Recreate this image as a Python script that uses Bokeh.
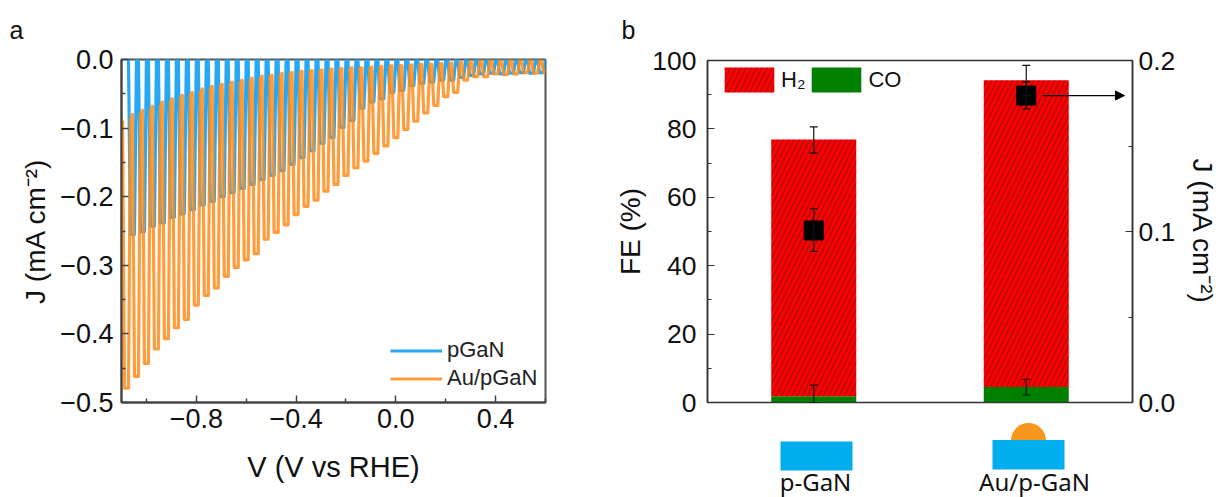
from bokeh.plotting import figure
from bokeh.layouts import row, column
from bokeh.embed import file_html
from bokeh.resources import INLINE
from bokeh.models import (Range1d, LinearAxis, FixedTicker, Legend, LegendItem, Whisker, TeeHead,
                          ColumnDataSource, Arrow, NormalHead, Title)
from bokeh.core.properties import value

# ---------- panel a: chopped LSV, one entry per light pulse ----------
au_pulse_v = [-1.08, -1.04, -1.00, -0.96, -0.92, -0.88, -0.84, -0.80, -0.76, -0.72, -0.68, -0.64, -0.60, -0.56,
              -0.52, -0.48, -0.44, -0.40, -0.36, -0.32, -0.28, -0.24, -0.20, -0.16, -0.12, -0.08, -0.04, 0.00,
              0.04, 0.08, 0.12, 0.16, 0.20, 0.24, 0.28, 0.32, 0.36, 0.40, 0.44, 0.48, 0.52, 0.56, 0.60]
au_light = [-0.479, -0.462, -0.443, -0.422, -0.407, -0.391, -0.379, -0.358, -0.344, -0.333, -0.316, -0.303,
            -0.292, -0.283, -0.262, -0.252, -0.241, -0.226, -0.214, -0.205, -0.192, -0.182, -0.169, -0.158,
            -0.148, -0.137, -0.126, -0.114, -0.102, -0.090, -0.078, -0.067, -0.054, -0.048, -0.030, -0.025,
            -0.025, -0.021, -0.022, -0.021, -0.019, -0.020, -0.018]
au_dark = [-0.089, -0.080, -0.074, -0.068, -0.062, -0.057, -0.052, -0.048, -0.043, -0.039, -0.036, -0.033,
           -0.030, -0.027, -0.024, -0.023, -0.020, -0.019, -0.017, -0.016, -0.015, -0.014, -0.013, -0.012,
           -0.012, -0.011, -0.010, -0.009, -0.009, -0.008, -0.007, -0.007, -0.006, -0.005, -0.004, -0.003,
           -0.002, -0.002, -0.002, -0.002, -0.002, -0.002, -0.002]
pg_pulse_v = [-1.056, -1.016, -0.976, -0.936, -0.896, -0.856, -0.816, -0.776, -0.736, -0.696, -0.656, -0.616,
              -0.576, -0.536, -0.496, -0.456, -0.416, -0.376, -0.336, -0.296, -0.256, -0.216, -0.176, -0.136,
              -0.096, -0.056, -0.016, 0.024, 0.064, 0.104, 0.144, 0.184, 0.224, 0.264, 0.304, 0.344, 0.384,
              0.424, 0.464, 0.504, 0.544, 0.584]
pg_light = [-0.255, -0.251, -0.243, -0.238, -0.230, -0.225, -0.219, -0.212, -0.207, -0.200, -0.194, -0.188,
            -0.182, -0.175, -0.169, -0.162, -0.153, -0.143, -0.133, -0.122, -0.114, -0.099, -0.089, -0.071,
            -0.062, -0.057, -0.048, -0.045, -0.038, -0.035, -0.033, -0.030, -0.030, -0.026, -0.023, -0.021,
            -0.020, -0.021, -0.020, -0.019, -0.020, -0.019]
pg_dark = [0.0] * 42
x_major = [-0.8, -0.4, 0.0, 0.4]
x_minor = [-1.0, -0.6, -0.2, 0.2, 0.6]
x_labels = {-0.8: "\u22120.8", -0.4: "\u22120.4", 0.0: "0.0", 0.4: "0.4"}
y_major = [0.0, -0.1, -0.2, -0.3, -0.4, -0.5]
y_minor = [-0.05, -0.15, -0.25, -0.35, -0.45]
y_labels = {0.0: "0.0", -0.1: "\u22120.1", -0.2: "\u22120.2", -0.3: "\u22120.3", -0.4: "\u22120.4", -0.5: "\u22120.5"}

# ---------- panel b ----------
samples = [1, 2]
sample_names = ["p-GaN", "Au/p-GaN"]
fe_co = [1.85, 4.5]
fe_h2 = [75.05, 89.7]
fe_total = [76.9, 94.2]
fe_total_lo = [72.9, 89.8]
fe_total_hi = [80.6, 98.6]
fe_co_lo = [0.0, 2.2]
fe_co_hi = [5.1, 6.8]
j_vals = [0.1006, 0.1795]
j_lo = [0.0883, 0.1717]
j_hi = [0.1133, 0.1875]

FONT = "Liberation Sans"
BLUE = "#28a8f4"
ORANGE = "#ff8c1a"


def trace(vs, dark, light, top_half=0.016, low_half=0.008):
    xs, ys = [], []
    for v, d, l in zip(vs, dark, light):
        xs += [v - top_half, v - low_half, v + low_half, v + top_half]
        ys += [d, l, l, d]
    return xs, ys


# ---------- panel a ----------
a = figure(width=608, height=497, frame_width=424, frame_height=343, x_range=Range1d(-1.1, 0.6),
           y_range=Range1d(-0.5, 0.0), toolbar_location=None, output_backend="svg",
           min_border_left=121, min_border_right=63, min_border_top=59, min_border_bottom=95)
a.grid.visible = False
a.outline_line_color = "#555555"
a.outline_line_width = 2
xs, ys = trace(pg_pulse_v, pg_dark, pg_light)
r_pg = a.line(xs, ys, line_color=BLUE, line_width=3.2, line_join="round")
xs, ys = trace(au_pulse_v, au_dark, au_light)
r_au = a.line(xs, ys, line_color=ORANGE, line_width=3.2, line_alpha=0.85, line_join="round")
for ax in (a.xaxis[0], a.yaxis[0]):
    ax.axis_line_color = "#444444"
    ax.axis_line_width = 2
    ax.major_tick_line_color = "#444444"
    ax.minor_tick_line_color = "#444444"
    ax.major_tick_line_width = 1.5
    ax.minor_tick_line_width = 1.5
    ax.major_tick_in = 7
    ax.major_tick_out = 0
    ax.minor_tick_in = 4
    ax.minor_tick_out = 0
    ax.major_label_text_font = FONT
    ax.major_label_text_font_size = "27px"
    ax.major_label_text_color = "#111111"
    ax.axis_label_text_font = FONT
    ax.axis_label_text_font_size = "28px"
    ax.axis_label_text_font_style = "normal"
    ax.axis_label_text_color = "#111111"
a.xaxis[0].ticker = FixedTicker(ticks=x_major, minor_ticks=x_minor)
a.xaxis[0].major_label_overrides = x_labels
a.xaxis[0].axis_label = "V (V vs RHE)"
a.xaxis[0].axis_label_text_font_size = "29px"
a.xaxis[0].major_label_standoff = 6
a.xaxis[0].axis_label_standoff = 20
a.yaxis[0].ticker = FixedTicker(ticks=y_major, minor_ticks=y_minor)
a.yaxis[0].major_label_overrides = y_labels
a.yaxis[0].axis_label = "J (mA cm\u207b\u00b2)"
a.yaxis[0].major_label_standoff = 8
a.yaxis[0].axis_label_standoff = 6
a.add_layout(Legend(items=[LegendItem(label="pGaN", renderers=[r_pg]), LegendItem(label="Au/pGaN", renderers=[r_au])],
                    location=(269, 11), padding=0, margin=0, spacing=2, glyph_width=52, glyph_height=21,
                    label_height=21, label_standoff=5, label_text_font=FONT, label_text_font_size="22px",
                    label_text_color="#222222", border_line_color=None, background_fill_alpha=0))
a.add_layout(Title(text="a", align="left", offset=-112, standoff=28, vertical_align="top", text_font=FONT,
                   text_font_size="25px", text_font_style="normal", text_color="#111111"), "above")

# ---------- panel b ----------
b = figure(width=611, height=422, frame_width=425, frame_height=342, x_range=Range1d(0.5, 2.5),
           y_range=Range1d(0, 100), toolbar_location=None, output_backend="svg",
           min_border_left=99, min_border_right=87, min_border_top=60, min_border_bottom=20)
b.extra_y_ranges = {"j": Range1d(0, 0.2)}
b.grid.visible = False
b.outline_line_color = "#333333"
b.outline_line_width = 1.5
r_co = b.vbar(x=samples, width=0.4, bottom=0, top=fe_co, fill_color="#008000", line_color=None)
r_h2 = b.vbar(x=samples, width=0.4, bottom=fe_co, top=fe_total, fill_color="#ff0000", line_color=None,
              hatch_pattern="right_diagonal_line", hatch_color="#222222", hatch_weight=0.6, hatch_scale=10.5)
src = ColumnDataSource(dict(x=samples, tl=fe_total_lo, th=fe_total_hi, cl=fe_co_lo, ch=fe_co_hi, jl=j_lo, jh=j_hi))
for lo, hi, yr in (("tl", "th", "default"), ("cl", "ch", "default"), ("jl", "jh", "j")):
    b.add_layout(Whisker(source=src, base="x", lower=lo, upper=hi, y_range_name=yr, level="overlay",
                         line_color="#111111", line_width=1.2,
                         upper_head=TeeHead(size=8, line_color="#111111", line_width=1.2),
                         lower_head=TeeHead(size=8, line_color="#111111", line_width=1.2)))
b.scatter(samples, j_vals, marker="square", size=19, color="black", y_range_name="j")
b.add_layout(Arrow(end=NormalHead(size=9, fill_color="black", line_color="black"), x_start=2.079, x_end=2.462,
                   y_start=0.1795, y_end=0.1795, y_range_name="j", line_color="black", line_width=1.3))
right = LinearAxis(y_range_name="j", ticker=FixedTicker(ticks=[0.0, 0.1, 0.2], minor_ticks=[0.05, 0.15]),
                   axis_label="J (mA cm\u207b\u00b2)", major_label_overrides={0.0: "0.0", 0.1: "0.1", 0.2: "0.2"})
b.add_layout(right, "right")
b.xaxis[0].ticker = FixedTicker(ticks=[])
b.xaxis[0].major_label_text_font_size = "0px"
b.xaxis[0].axis_line_color = "#333333"
b.yaxis[0].ticker = FixedTicker(ticks=[0, 20, 40, 60, 80, 100], minor_ticks=[10, 30, 50, 70, 90])
b.yaxis[0].axis_label = "FE (%)"
for ax in (b.yaxis[0], right):
    ax.axis_line_color = "#333333"
    ax.axis_line_width = 1.5
    ax.major_tick_line_color = "#333333"
    ax.minor_tick_line_color = "#333333"
    ax.major_tick_in = 7
    ax.major_tick_out = 0
    ax.minor_tick_in = 4
    ax.minor_tick_out = 0
    ax.major_label_text_font = FONT
    ax.major_label_text_font_size = "26.5px"
    ax.major_label_text_color = "#111111"
    ax.axis_label_text_font = FONT
    ax.axis_label_text_font_size = "28px"
    ax.axis_label_text_font_style = "normal"
    ax.axis_label_text_color = "#111111"
b.yaxis[0].major_label_standoff = 11
b.yaxis[0].axis_label_standoff = 3
right.major_label_standoff = 6
right.axis_label_standoff = 9
b.add_layout(Legend(items=[LegendItem(label="H\u2082", renderers=[r_h2]), LegendItem(label="CO", renderers=[r_co])],
                    orientation="horizontal", location=(11, 307), padding=0, margin=0, spacing=0, glyph_width=62,
                    glyph_height=31, label_standoff=1, label_text_font=FONT, label_text_font_size="22px",
                    label_text_color="#111111", border_line_color=None, background_fill_alpha=0))
b.add_layout(Title(text="b", align="left", offset=-86, standoff=29, vertical_align="top", text_font=FONT,
                   text_font_size="25px", text_font_style="normal", text_color="#111111"), "above")

# ---------- schematics under panel b (axes are page pixels) ----------
s = figure(width=611, height=75, frame_width=425, frame_height=75, x_range=Range1d(707, 1132), y_range=Range1d(497, 422),
           toolbar_location=None, output_backend="svg", min_border_left=99, min_border_right=87, min_border_top=0,
           min_border_bottom=0)
s.axis.visible = False
s.grid.visible = False
s.outline_line_color = None
s.wedge(x=[1028], y=[440], radius=17.5, start_angle=0, end_angle=3.14159, direction="anticlock",
        fill_color="#f7971e", line_color=None)
s.quad(left=[780, 992], right=[852, 1064], top=[441, 439.5], bottom=[470, 469], fill_color="#00aeef", line_color=None)
s.text(x=[815, 1034], y=[480.5, 480.5], text=sample_names, text_align="center", text_baseline="middle",
       text_font=value("Noto Sans"), text_font_size="24px", text_color="#111111")

page = row(a, column(b, s, spacing=0), spacing=0)
open("out.html", "w").write(file_html(page, INLINE))
